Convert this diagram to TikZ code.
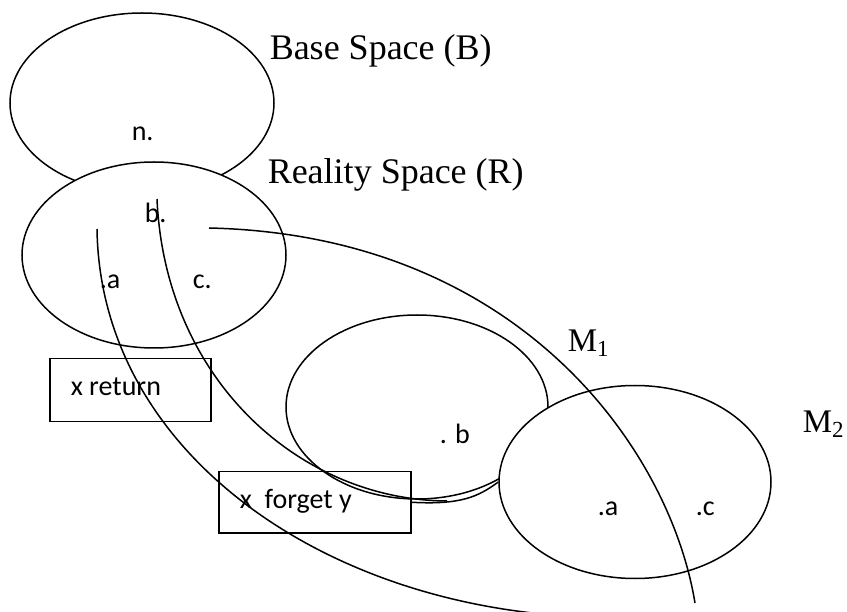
\documentclass[tikz,border=0pt]{standalone}
\usepackage{fontspec}
\setmainfont{Liberation Serif}
\newfontfamily\calfont{Carlito}
\usetikzlibrary{shapes.geometric}
\begin{document}
\begin{tikzpicture}[x=1pt,y=-1pt,line width=1.5pt,
  space/.style={draw,ellipse,inner sep=0pt},
  boxst/.style={draw,rectangle,inner sep=0pt,anchor=north west},
  lbl/.style={inner sep=0pt,anchor=base west,font=\calfont\fontsize{28}{28}\selectfont},
  ttl/.style={inner sep=0pt,anchor=base west,font=\fontsize{36}{36}\selectfont},
  mttl/.style={inner sep=0pt,anchor=base west,font=\fontsize{33}{33}\selectfont}]
\useasboundingbox (0,0) rectangle (847,612);
% spaces
\node[space,minimum width=264pt,minimum height=180pt] (B) at (142,103) {};
\node[space,fill=white,minimum width=264pt,minimum height=186pt] (R) at (154,255) {};
\node[space,minimum width=262pt,minimum height=184pt] (M1) at (417,407) {};
\node[space,fill=white,minimum width=272pt,minimum height=193pt] (M2) at (635,482) {};
% boxes
\node[boxst,minimum width=161pt,minimum height=63pt] (ret) at (49,358) {};
\node[boxst,minimum width=192pt,minimum height=61pt] (fgt) at (218,471) {};
% titles
\node[ttl] (tB) at (269,60) {Base Space (B)};
\node[ttl] (tR) at (267,184) {Reality Space (R)};
\node[mttl] (tM1) at (567,352) {M\raisebox{-5pt}{\fontsize{23}{23}\selectfont 1}};
\node[mttl] (tM2) at (802,433) {M\raisebox{-5pt}{\fontsize{23}{23}\selectfont 2}};
% labels
\node[lbl] (ln) at (131,141) {n.};
\node[lbl] (lb) at (144,223) {b.};
\node[lbl] (la) at (99,289) {.a};
\node[lbl] (lc) at (192,289) {c.};
\node[lbl] (lret) at (70,396) {x return};
\node[lbl] (lfgt) at (239,508) {x\ \ forget y};
\node[lbl] (lb2) at (439,444) {. b};
\node[lbl] (la2) at (597,515) {.a};
\node[lbl] (lc2) at (695,515) {.c};
% curve end points
\coordinate (a0) at (97,229);
\coordinate (a1) at (542,614);
\coordinate (b0) at (157,199);
\coordinate (b1) at (447,501);
\coordinate (c0) at (209,228);
\coordinate (c1) at (695,603);
% curves
\draw (a0) .. controls (100,440) and (300,590) .. (a1);
\draw (b0) .. controls (165,380) and (300,500) .. (b1);
\draw (c0) .. controls (520,235) and (670,450) .. (c1);
\draw (fgt.east) .. controls (460,505) and (478,497) .. (M2.west);
\end{tikzpicture}
\end{document}
